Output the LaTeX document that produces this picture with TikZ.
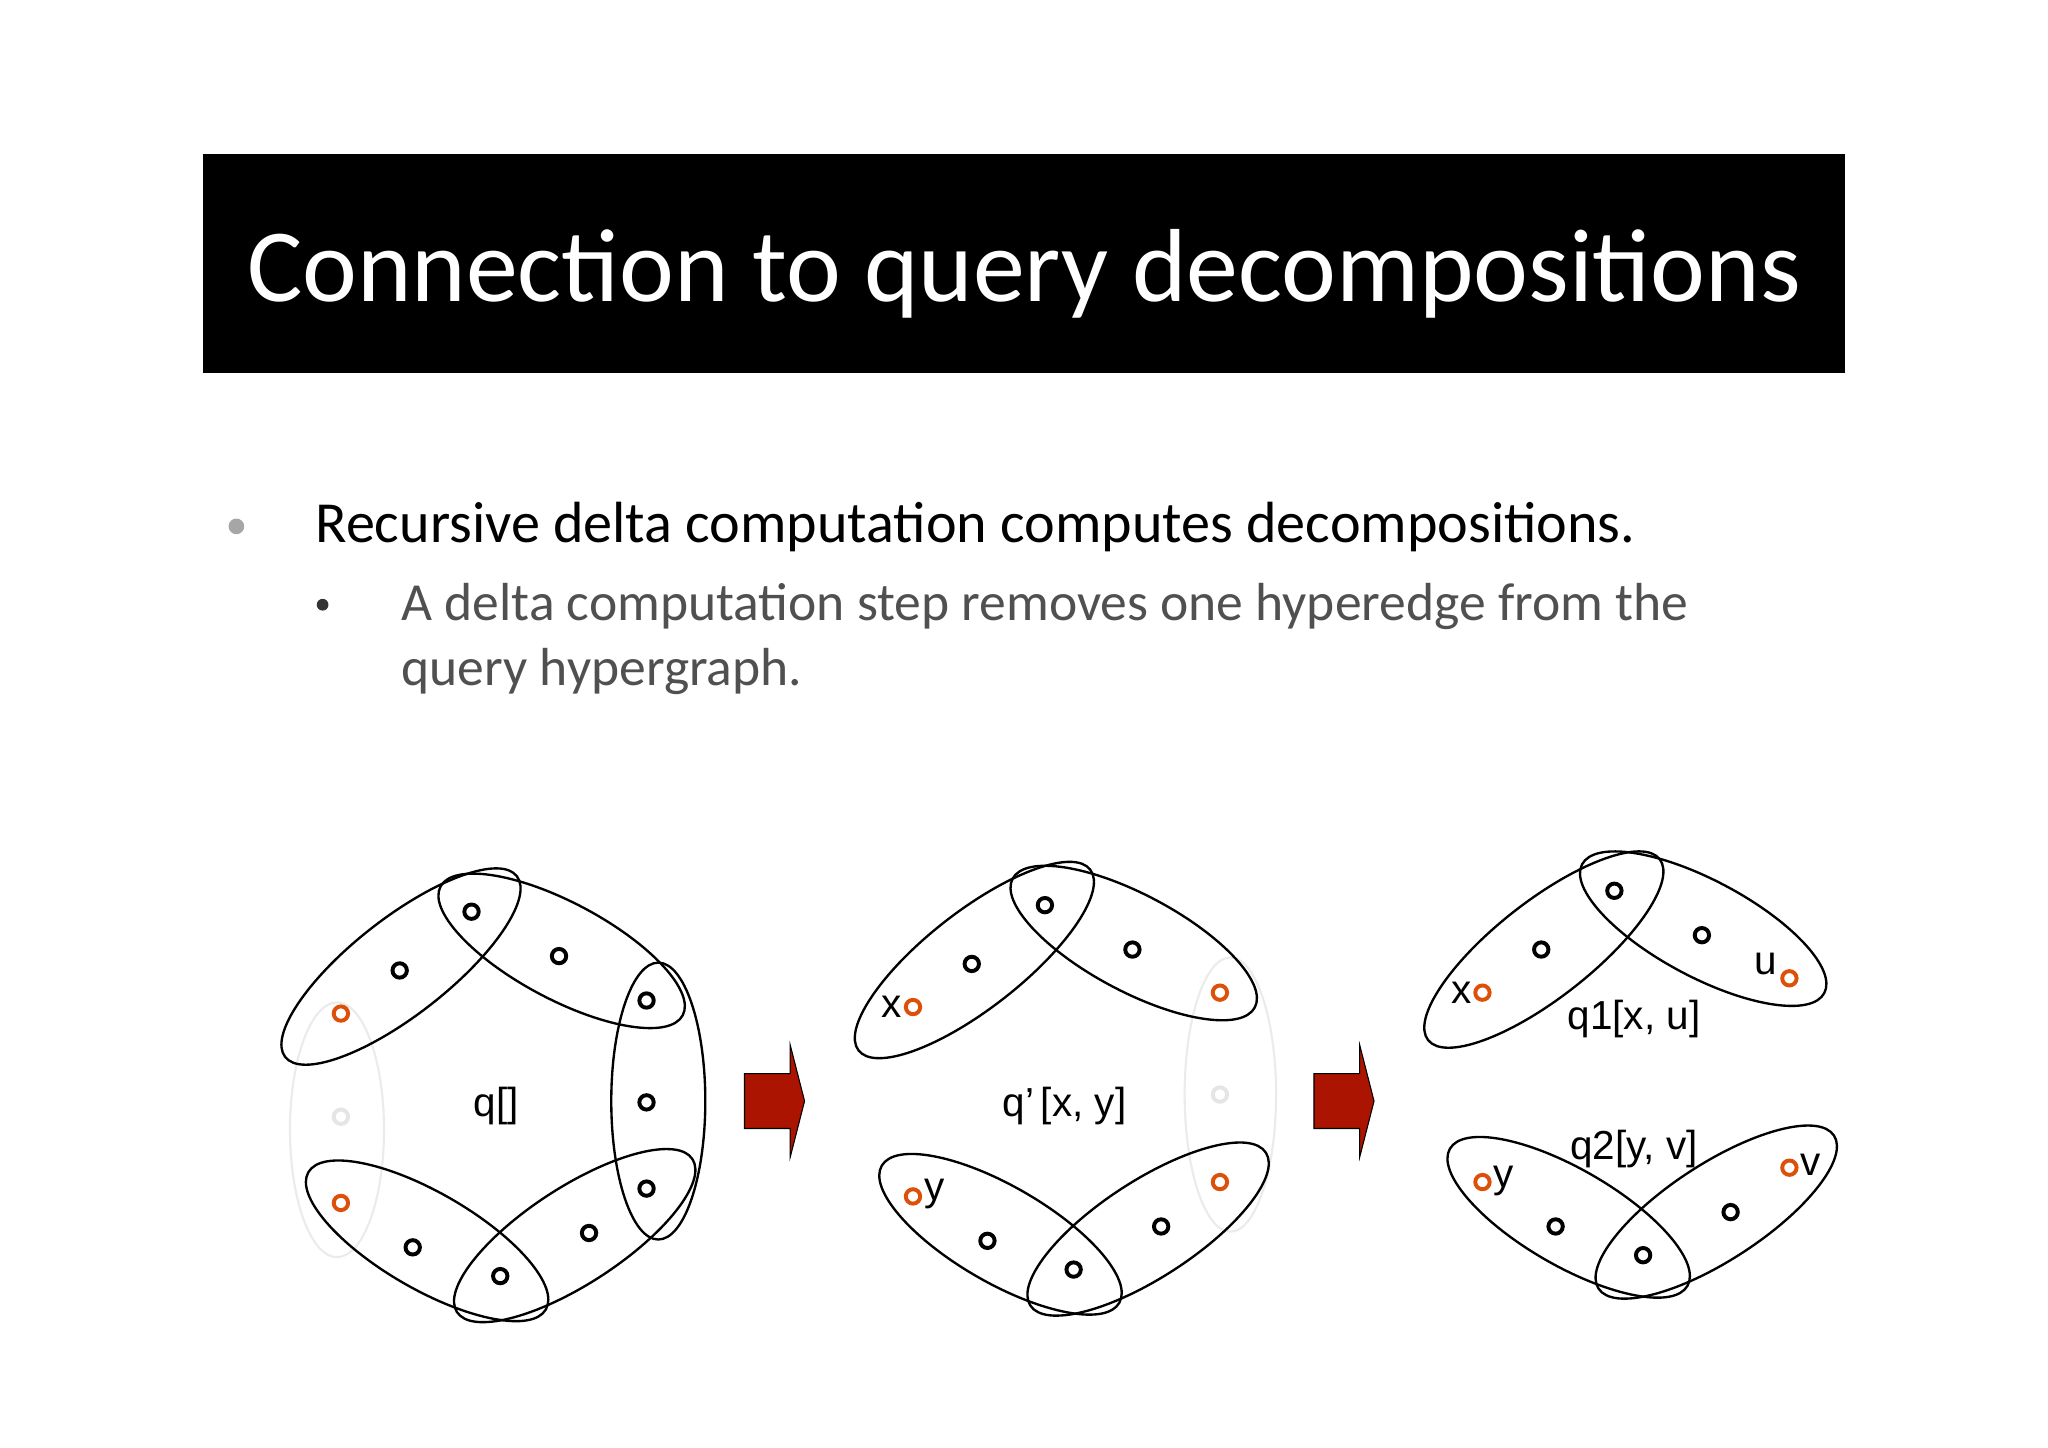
\documentclass[tikz,border=0pt]{standalone}
\usepackage{fontspec}
\setmainfont{Liberation Sans}
\newfontfamily\calfont{Carlito}
\usetikzlibrary{shapes.geometric}
\definecolor{org}{RGB}{220,80,10}
\definecolor{dred}{RGB}{170,20,0}
\definecolor{txtg}{RGB}{80,80,80}
\begin{document}
\begin{tikzpicture}[x=1pt,y=-1pt,
 hedge/.style={ellipse,draw,line width=1.8pt,inner sep=0pt},
 gedge/.style={ellipse,draw=black!8,line width=1.6pt,inner sep=0pt},
 vb/.style={circle,draw,line width=3pt,minimum size=11pt,inner sep=0pt},
 vo/.style={vb,draw=org},
 vg/.style={vb,draw=black!10},
 lab/.style={font=\fontsize{31}{34}\selectfont},
 barrow/.style={draw=black,fill=dred,line width=0.8pt}]
\useasboundingbox (0,0) rectangle (1568,1108);
\fill[white] (0,0) rectangle (1568,1108);
\node[fill=black,minimum width=1257pt,minimum height=167pt,anchor=north west,inner sep=0pt] (tb) at (155,118) {};
\node[text=white,font=\calfont\fontsize{79.5}{80}\selectfont] (title) at (784,210) {Connection to query decompositions};
\node[circle,fill=black!35,minimum size=12pt,inner sep=0pt] (b1) at (181,403) {};
\node[anchor=base west,font=\calfont\fontsize{44.5}{48}\selectfont] (t1) at (238,415) {Recursive delta computation computes decompositions.};
\node[circle,fill=black!80,minimum size=9pt,inner sep=0pt] (b2) at (247,463) {};
\node[anchor=base west,text=txtg,font=\calfont\fontsize{41}{44}\selectfont] (t2) at (304,475) {A delta computation step removes one hyperedge from the};
\node[anchor=base west,text=txtg,font=\calfont\fontsize{41}{44}\selectfont] (t3) at (304,525) {query hypergraph.};
% left graph
\node[gedge,minimum width=72pt,minimum height=195pt] (l6) at (258,865) {};
\node[hedge,minimum width=225pt,minimum height=74pt,rotate=38] (l1) at (307,740) {};
\node[hedge,minimum width=210pt,minimum height=74pt,rotate=-28] (l2) at (430,728) {};
\node[hedge,minimum width=72pt,minimum height=212pt] (l3) at (504,843) {};
\node[hedge,minimum width=215pt,minimum height=74pt,rotate=33] (l4) at (440,946) {};
\node[hedge,minimum width=210pt,minimum height=74pt,rotate=-30] (l5) at (327,950) {};
\node[vb] (a1) at (361,698) {}; \node[vb] (a2) at (306,743) {}; \node[vb] (a3) at (428,732) {};
\node[vo] (a4) at (261,776) {}; \node[vb] (a5) at (495,766) {}; \node[vg] (a6) at (261,855) {};
\node[vb] (a7) at (495,844) {}; \node[vo] (a8) at (261,921) {}; \node[vb] (a9) at (495,910) {};
\node[vb] (a10) at (316,955) {}; \node[vb] (a11) at (451,944) {}; \node[vb] (a12) at (383,977) {};
\node[lab] (ql) at (380,847) {q[]};
\coordinate (ar1) at (570,822);
\draw[barrow] (ar1) -- ++(35,0) -- ++(0,-22) -- ++(11,43) -- ++(-11,43) -- ++(0,-22) -- ++(-35,0) -- cycle;
% middle graph
\node[gedge,minimum width=70pt,minimum height=210pt] (m6) at (942,838) {};
\node[hedge,minimum width=225pt,minimum height=74pt,rotate=38] (m1) at (746,735) {};
\node[hedge,minimum width=210pt,minimum height=74pt,rotate=-28] (m2) at (868,722) {};
\node[hedge,minimum width=215pt,minimum height=74pt,rotate=33] (m4) at (879,941) {};
\node[hedge,minimum width=210pt,minimum height=74pt,rotate=-30] (m5) at (766,945) {};
\node[vb] (b1a) at (800,693) {}; \node[vb] (b2a) at (744,738) {}; \node[vb] (b3a) at (867,727) {};
\node[vo] (b4a) at (699,771) {}; \node[vo] (b5a) at (934,760) {}; \node[vg] (b6a) at (934,838) {};
\node[vo] (b7a) at (934,905) {}; \node[vb] (b8a) at (889,939) {}; \node[vb] (b9a) at (756,950) {};
\node[vb] (b10a) at (822,972) {}; \node[vo] (b11a) at (699,916) {};
\node[lab,anchor=east] (mx) at (694,771) {x};
\node[lab,anchor=west] (my) at (704,914) {y};
\node[lab] (qm) at (815,847) {q'\,[x, y]};
\coordinate (ar2) at (1006,822);
\draw[barrow] (ar2) -- ++(35,0) -- ++(0,-22) -- ++(11,43) -- ++(-11,43) -- ++(0,-22) -- ++(-35,0) -- cycle;
% right graph
\node[hedge,minimum width=225pt,minimum height=74pt,rotate=38] (r1) at (1182,727) {};
\node[hedge,minimum width=210pt,minimum height=74pt,rotate=-28] (r2) at (1304,711) {};
\node[hedge,minimum width=215pt,minimum height=74pt,rotate=33] (r4) at (1314,928) {};
\node[hedge,minimum width=210pt,minimum height=74pt,rotate=-30] (r5) at (1201,932) {};
\node[vo] (c1) at (1135,760) {}; \node[vb] (c2) at (1180,727) {}; \node[vb] (c3) at (1236,682) {};
\node[vb] (c4) at (1303,716) {}; \node[vo] (c5) at (1370,749) {};
\node[vo] (c6) at (1135,905) {}; \node[vb] (c7) at (1191,939) {}; \node[vb] (c8) at (1258,961) {};
\node[vb] (c9) at (1325,928) {}; \node[vo] (c10) at (1370,894) {};
\node[lab,anchor=east] (rx) at (1130,760) {x};
\node[lab] (ru) at (1352,738) {u};
\node[lab,anchor=west] (ry) at (1140,904) {y};
\node[lab,anchor=west] (rv) at (1375,892) {v};
\node[lab] (q1) at (1251,780) {q1[x, u]};
\node[lab] (q2) at (1251,880) {q2[y, v]};
\end{tikzpicture}
\end{document}
